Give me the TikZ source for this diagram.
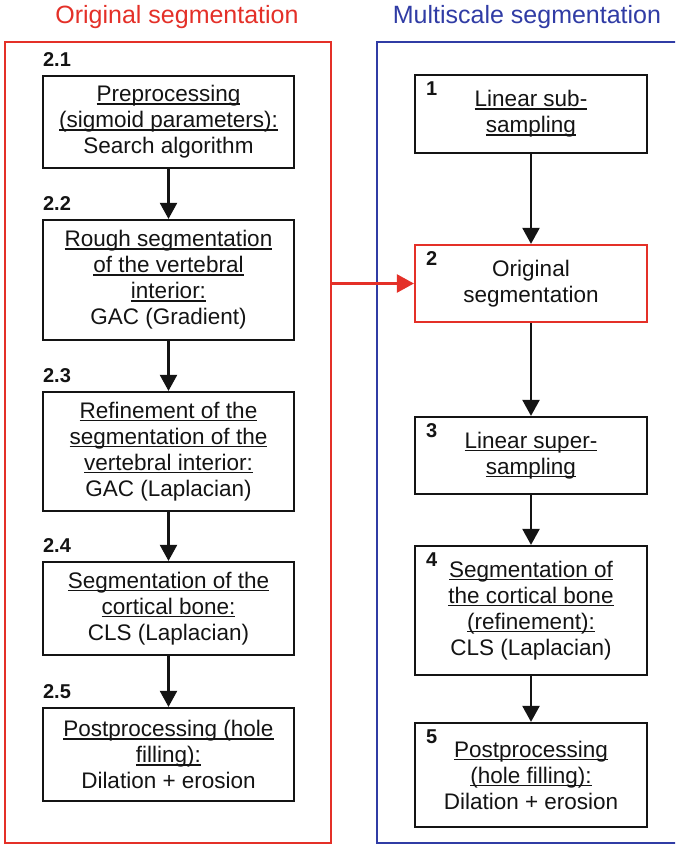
\documentclass[tikz,border=0pt]{standalone}
\usepackage{fontspec}
\setmainfont{Liberation Sans}
\usetikzlibrary{arrows.meta,calc}
\definecolor{segred}{RGB}{228,48,40}
\definecolor{segblue}{RGB}{48,60,165}
\definecolor{ink}{RGB}{20,20,20}
\newsavebox\ulbox
\newcommand\myul[1]{\sbox\ulbox{#1}\rlap{\rule[-3pt]{\wd\ulbox}{1.4pt}}\usebox\ulbox}
\begin{document}
\begin{tikzpicture}[x=1pt,y=-1pt,
  box/.style={draw=ink, line width=2.2pt, rectangle, inner sep=0pt, align=center,
    text=ink, font=\fontsize{22.5}{26}\selectfont},
  lbox/.style={box, minimum width=251pt},
  rbox/.style={box, minimum width=232pt},
  numlab/.style={inner sep=0pt, text=ink, font=\fontsize{20}{22}\selectfont\bfseries},
  arr/.style={draw=ink, line width=2.2pt, -{Triangle[width=17pt,length=16pt]}},
  title/.style={inner sep=0pt, font=\fontsize{25}{30}\selectfont}]
\useasboundingbox (0,0) rectangle (675,845);
\clip (0,0) rectangle (675,845);
\fill[white] (0,0) rectangle (675,845);

% outer frames and titles
\node[draw=segred, line width=2.6pt, minimum width=326pt, minimum height=801pt, inner sep=0pt] (origbox) at (168,442.5) {};
\node[draw=segblue, line width=2.6pt, minimum width=313pt, minimum height=801pt, inner sep=0pt] (multibox) at (533.5,442.5) {};
\node[title, text=segred] (t1) at (177,17) {Original segmentation};
\node[title, text=segblue] (t2) at (527,17) {Multiscale segmentation};

% left column
\node[lbox, minimum height=92pt] (b21) at (168.5,122) {\myul{Preprocessing}\\\myul{(sigmoid parameters):}\\Search algorithm};
\node[lbox, minimum height=120pt] (b22) at (168.5,280) {\myul{Rough segmentation}\\\myul{of the vertebral}\\\myul{interior:}\\GAC (Gradient)};
\node[lbox, minimum height=119pt] (b23) at (168.5,451.5) {\myul{Refinement of the}\\\myul{segmentation of the}\\\myul{vertebral interior:}\\GAC (Laplacian)};
\node[lbox, minimum height=93pt] (b24) at (168.5,608.5) {\myul{Segmentation of the}\\\myul{cortical bone:}\\CLS (Laplacian)};
\node[lbox, minimum height=93pt] (b25) at (168.5,754.5) {\myul{Postprocessing (hole}\\\myul{filling):}\\Dilation + erosion};

\node[numlab, anchor=base west] (l21) at ($(b21.north west)+(1,-8)$) {2.1};
\node[numlab, anchor=base west] (l22) at ($(b22.north west)+(1,-8)$) {2.2};
\node[numlab, anchor=base west] (l23) at ($(b23.north west)+(1,-8)$) {2.3};
\node[numlab, anchor=base west] (l24) at ($(b24.north west)+(1,-8)$) {2.4};
\node[numlab, anchor=base west] (l25) at ($(b25.north west)+(1,-8)$) {2.5};

\draw[arr] (b21) -- (b22);
\draw[arr] (b22) -- (b23);
\draw[arr] (b23) -- (b24);
\draw[arr] (b24) -- (b25);

% right column
\node[rbox, minimum height=78pt] (m1) at (531,114) {\myul{Linear sub-}\\\myul{sampling}};
\node[rbox, minimum height=77pt, draw=segred] (m2) at (531,283.5) {Original\\segmentation};
\node[rbox, minimum height=77pt] (m3) at (531,455.5) {\myul{Linear super-}\\\myul{sampling}};
\node[rbox, minimum height=129pt] (m4) at (531,610.5) {\myul{Segmentation of}\\\myul{the cortical bone}\\\myul{(refinement):}\\CLS (Laplacian)};
\node[rbox, minimum height=104pt] (m5) at (531,775) {\myul{Postprocessing}\\\myul{(hole filling):}\\Dilation + erosion};

\node[numlab, anchor=base west] (n1) at ($(m1.north west)+(12,22)$) {1};
\node[numlab, anchor=base west] (n2) at ($(m2.north west)+(12,22)$) {2};
\node[numlab, anchor=base west] (n3) at ($(m3.north west)+(12,22)$) {3};
\node[numlab, anchor=base west] (n4) at ($(m4.north west)+(12,22)$) {4};
\node[numlab, anchor=base west] (n5) at ($(m5.north west)+(12,22)$) {5};

\draw[arr] (m1) -- (m2);
\draw[arr] (m2) -- (m3);
\draw[arr] (m3) -- (m4);
\draw[arr] (m4) -- (m5);

% link
\draw[segred, line width=2.4pt, -{Triangle[width=18pt,length=17pt]}] (origbox.east |- m2.west) -- (m2.west);
\end{tikzpicture}
\end{document}
